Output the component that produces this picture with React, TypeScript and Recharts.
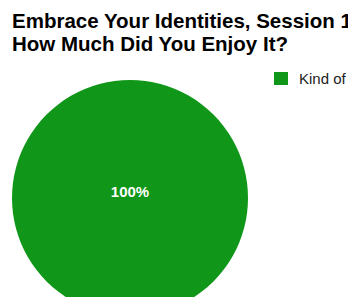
import React from "react";
import { PieChart, Pie, Cell, Legend } from "recharts";

const categories = ["Kind of"];
const values = [100];
const colors = ["#109618"];
const titleLines = ["Embrace Your Identities, Session 1:", "How Much Did You Enjoy It?"];

const data = categories.map((name, i) => ({ name, value: values[i] }));
const total = values.reduce((a, b) => a + b, 0);

const renderLabel = (props: any) => {
  const { cx, cy, value } = props;
  const pct = Math.round((value / total) * 100) + "%";
  return (
    <text
      x={cx}
      y={cy - 7}
      textAnchor="middle"
      dominantBaseline="central"
      fill="#ffffff"
      fontFamily="Arial, 'Liberation Sans', sans-serif"
      fontWeight="bold"
      fontSize={15}
    >
      {pct}
    </text>
  );
};

const renderLegend = (props: any) => {
  const { payload } = props;
  return (
    <div>
      {(payload || []).map((p: any, i: number) => (
        <div key={i} style={{ display: "flex", alignItems: "center", whiteSpace: "nowrap", height: 14 }}>
          <span style={{ display: "inline-block", width: 14, height: 13, background: p.color, marginRight: 11 }} />
          <span style={{ fontFamily: "Arial, 'Liberation Sans', sans-serif", fontSize: 15, color: "#222" }}>{p.value}</span>
        </div>
      ))}
    </div>
  );
};

export default function App() {
  return (
    <div style={{ position: "absolute", left: 0, top: 0, width: 348, height: 297, overflow: "hidden", background: "#fff" }}>
      <div
        style={{
          position: "absolute",
          left: 12,
          top: 9,
          whiteSpace: "nowrap",
          fontFamily: "Arial, 'Liberation Sans', sans-serif",
          fontWeight: "bold",
          fontSize: 20.5,
          lineHeight: "23px",
          color: "#000",
        }}
      >
        {titleLines.map((t, i) => (
          <div key={i}>{t}</div>
        ))}
      </div>
      <PieChart width={348} height={297} margin={{ top: 0, right: 0, bottom: 0, left: 0 }}>
        <Pie
          data={data}
          dataKey="value"
          nameKey="name"
          cx={130}
          cy={198}
          outerRadius={118}
          startAngle={90}
          endAngle={-270}
          stroke="none"
          labelLine={false}
          label={renderLabel}
          isAnimationActive={false}
        >
          {data.map((d, i) => (
            <Cell key={i} fill={colors[i]} />
          ))}
        </Pie>
        <Legend
          content={renderLegend}
          wrapperStyle={{ position: "absolute", left: 274, top: 71, width: 74 }}
        />
      </PieChart>
    </div>
  );
}
